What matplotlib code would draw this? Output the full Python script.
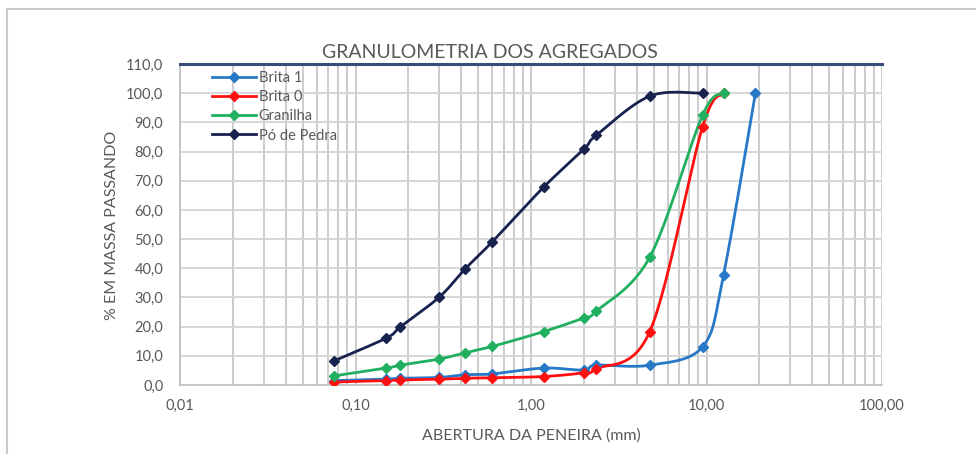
"""Granulometria dos agregados - curvas de distribuicao granulometrica."""

import numpy as np
import matplotlib
matplotlib.use("Agg")
import matplotlib.pyplot as plt
from matplotlib.ticker import FixedLocator, FuncFormatter, NullFormatter

# abertura das peneiras (mm)
sieves = [0.075, 0.15, 0.18, 0.3, 0.42, 0.6, 1.18, 2.0, 2.36, 4.75, 9.5, 12.5, 19.0]

brita1_x = sieves
brita1 = [1.5, 2.0, 2.3, 2.6, 3.5, 3.8, 5.8, 5.1, 6.8, 6.8, 13.1, 37.7, 100.0]

brita0_x = sieves[:12]
brita0 = [1.0, 1.5, 1.7, 2.0, 2.3, 2.5, 2.9, 4.2, 5.5, 18.3, 88.5, 100.0]

granilha_x = sieves[:12]
granilha = [3.1, 5.8, 6.8, 8.9, 11.0, 13.2, 18.3, 23.0, 25.3, 43.8, 92.5, 100.0]

po_x = sieves[:11]
po_pedra = [8.2, 16.1, 19.9, 30.1, 39.7, 49.0, 67.8, 80.8, 85.6, 99.0, 100.0]

series = [
    ("Brita 1", brita1_x, brita1, "#2878c8"),
    ("Brita 0", brita0_x, brita0, "#ff1010"),
    ("Granilha", granilha_x, granilha, "#20b060"),
    ("Pó de Pedra", po_x, po_pedra, "#18224f"),
]

x_ticks = [0.01, 0.1, 1.0, 10.0, 100.0]
y_ticks = np.arange(0, 111, 10)

plt.rcParams["font.family"] = ["Lato", "DejaVu Sans"]
TEXT = "#595959"


def smooth(xs, ys, n=30):
    """Excel-like smoothed line (Catmull-Rom) in screen-like space."""
    u = np.log10(np.asarray(xs)) * 175.0
    v = np.asarray(ys) * 2.92
    pts = np.column_stack([u, v])
    p = np.vstack([pts[0], pts, pts[-1]])
    out = []
    t = np.linspace(0, 1, n)[:, None]
    for i in range(1, len(p) - 2):
        p0, p1, p2, p3 = p[i - 1], p[i], p[i + 1], p[i + 2]
        c1 = p1 + (p2 - p0) / 6.0
        c2 = p2 - (p3 - p1) / 6.0
        seg = ((1 - t) ** 3) * p1 + 3 * ((1 - t) ** 2) * t * c1 + 3 * (1 - t) * t ** 2 * c2 + t ** 3 * p2
        out.append(seg)
    out = np.vstack(out)
    return 10 ** (out[:, 0] / 175.0), out[:, 1] / 2.92


fig = plt.figure(figsize=(9.76, 4.54), dpi=100)
fig.patches.append(plt.Rectangle((7 / 976, -0.1), 1.2, (454 - 9) / 454 + 0.1,
                                 transform=fig.transFigure, fill=False,
                                 edgecolor="#c8c8c8", linewidth=1.5))
ax = fig.add_axes([180 / 976, (454 - 385) / 454, 702 / 976, 321 / 454])

for name, xs, ys, color in series:
    sx, sy = smooth(xs, ys)
    ax.plot(sx, sy, color=color, linewidth=2.0, zorder=3)
    ax.plot(xs, ys, linestyle="none", marker="D", markersize=5.5, color=color, zorder=4)
    ax.plot([], [], color=color, linewidth=2.0, marker="D", markersize=5.5, label=name)

ax.set_xscale("log")
ax.set_xlim(0.01, 100)
ax.set_ylim(0, 110)
ax.xaxis.set_major_locator(FixedLocator(x_ticks))
ax.xaxis.set_major_formatter(FuncFormatter(lambda v, p: f"{v:.2f}".replace(".", ",")))
ax.xaxis.set_minor_formatter(NullFormatter())
ax.yaxis.set_major_locator(FixedLocator(y_ticks))
ax.yaxis.set_major_formatter(FuncFormatter(lambda v, p: f"{v:.1f}".replace(".", ",")))

ax.grid(True, which="both", axis="x", color="#c8c8c8", linewidth=1.3)
ax.grid(True, which="major", axis="y", color="#d4d4d4", linewidth=1.3)
ax.set_axisbelow(True)

for side in ["left", "bottom", "right"]:
    ax.spines[side].set_color("#bfbfbf")
    ax.spines[side].set_linewidth(1.2)
ax.spines["right"].set_visible(False)
ax.spines["top"].set_color("#3a4a7a")
ax.spines["top"].set_linewidth(2.2)

ax.tick_params(axis="both", which="both", length=0, labelsize=10.5, labelcolor=TEXT, pad=10)
ax.tick_params(axis="y", pad=12)

fig.text(490 / 976, 1 - 52 / 454, "GRANULOMETRIA DOS AGREGADOS", ha="center", va="center",
         fontsize=14, color=TEXT)
fig.text(112 / 976, 1 - 225 / 454, "% EM MASSA PASSANDO", ha="center", va="center",
         rotation=90, fontsize=11.5, color=TEXT)
fig.text(531 / 976, 1 - 436 / 454, "ABERTURA DA PENEIRA (mm)", ha="center", va="center",
         fontsize=11.5, color=TEXT)

leg = ax.legend(loc="upper left", bbox_to_anchor=(0.035, 1.0), frameon=False,
                fontsize=10.5, handlelength=3.0, handletextpad=0.2, labelspacing=0.35,
                borderaxespad=0.1)
for t in leg.get_texts():
    t.set_color(TEXT)

fig.savefig("out.png", dpi=100)
plt.close(fig)
